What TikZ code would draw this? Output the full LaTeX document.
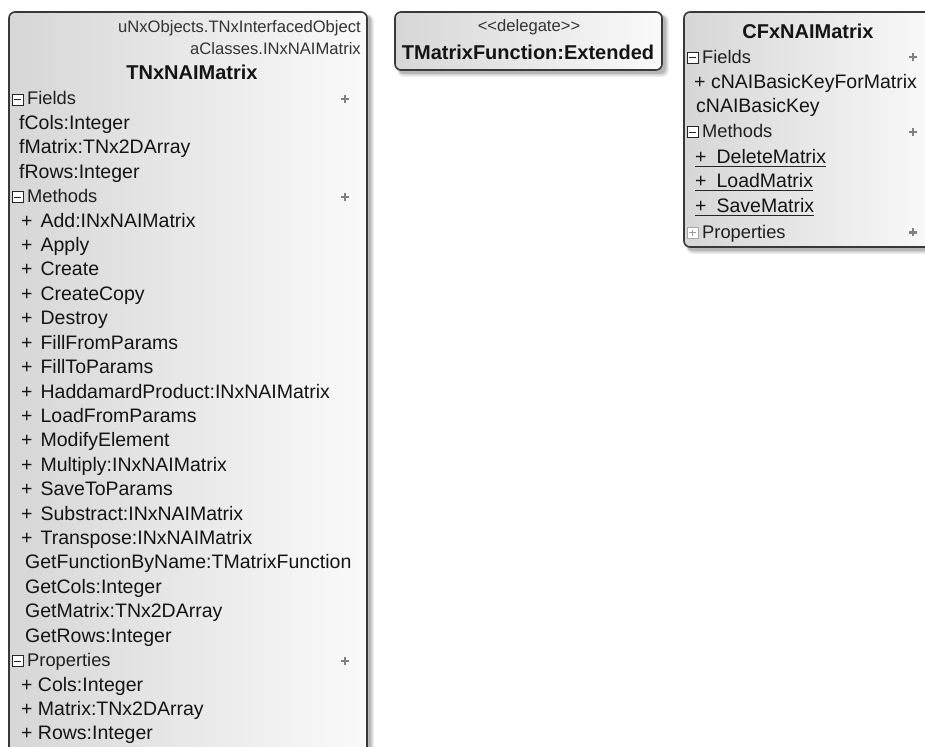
\documentclass[tikz,border=0pt]{standalone}
\usepackage{fontspec}
\setmainfont{Liberation Sans}
\usetikzlibrary{calc}
\begin{document}
\begin{tikzpicture}[x=1pt,y=-1pt,
  boxframe/.style={draw=black!78,line width=1.6pt,rounded corners=6pt,
                   left color=black!16,right color=black!2},
  mem/.style={anchor=base west,inner sep=0pt,text=black!92,
              font=\fontsize{19.5}{22}\selectfont},
  hdr/.style={anchor=base west,inner sep=0pt,text=black!88,
              font=\fontsize{18.3}{21}\selectfont},
  ttl/.style={anchor=base,inner sep=0pt,text=black!92,
              font=\bfseries\fontsize{20}{24}\selectfont},
  stereo/.style={inner sep=0pt,text=black!80,
                 font=\fontsize{16.6}{19}\selectfont},
  uline/.style={draw=black!85,line width=1.2pt}]

\useasboundingbox (0,0) rectangle (925,746);
\clip (0,0) rectangle (925,746);

% soft drop shadow under a rounded box: #1..#4 = left, top, right, bottom
\newcommand{\boxshadow}[4]{%
  \fill[black,opacity=0.07,rounded corners=7pt] (#1+2,#2+2) rectangle (#3+7,#4+7);
  \fill[black,opacity=0.10,rounded corners=6pt] (#1+3,#2+3) rectangle (#3+5.5,#4+5.5);
  \fill[black,opacity=0.14,rounded corners=6pt] (#1+3,#2+3) rectangle (#3+4,#4+4);}

% header row: minus box icon, caption and the grey add mark at the right
\newcommand{\hdrrow}[5]{% name, icon x, baseline, caption, plus x
  \draw[black!85,line width=0.9pt,fill=white] (#2,#3-11) rectangle (#2+11,#3);
  \draw[black!85,line width=1.1pt] (#2+2.4,#3-5.5) -- (#2+8.6,#3-5.5);
  \node[hdr] (#1) at (#2+15,#3) {#4};
  \draw[black!50,line width=2.4pt] (#5-4,#3-6) -- (#5+4,#3-6)
                                   (#5,#3-10) -- (#5,#3-2);}

% ---------------- TNxNAIMatrix ----------------
\boxshadow{9}{12}{367}{820}
\path[boxframe] (9,12) rectangle (367,820);
\node[stereo,anchor=base east] (anc1) at (361,33) {uNxObjects.TNxInterfacedObject};
\node[stereo,anchor=base east] (anc2) at (361,55) {aClasses.INxNAIMatrix};
\node[ttl] (tnxTitle) at (192,80) {TNxNAIMatrix};

\hdrrow{tnxFields}{12}{105}{Fields}{345}
\node[mem] (fCols)   at (19,129.4) {fCols:Integer};
\node[mem] (fMatrix) at (19,153.8) {fMatrix:TNx2DArray};
\node[mem] (fRows)   at (19,178.3) {fRows:Integer};

\hdrrow{tnxMethods}{12}{202.7}{Methods}{345}
\foreach \txt [count=\i from 0] in {Add:INxNAIMatrix, Apply, Create, CreateCopy,
    Destroy, FillFromParams, FillToParams, HaddamardProduct:INxNAIMatrix,
    LoadFromParams, ModifyElement, Multiply:INxNAIMatrix, SaveToParams,
    Substract:INxNAIMatrix, Transpose:INxNAIMatrix}
  \node[mem] (meth\i) at (21,227.1+24.42*\i) {+\hspace{8pt}\txt};
\foreach \txt [count=\i from 0] in {GetFunctionByName:TMatrixFunction,
    GetCols:Integer, GetMatrix:TNx2DArray, GetRows:Integer}
  \node[mem] (getter\i) at (25,568.9+24.42*\i) {\txt};

\hdrrow{tnxProps}{12}{666.7}{Properties}{345}
\node[mem] (pCols)   at (21,691.1) {+ Cols:Integer};
\node[mem] (pMatrix) at (21,715.5) {+ Matrix:TNx2DArray};
\node[mem] (pRows)   at (21,739.9) {+ Rows:Integer};

% ---------------- TMatrixFunction ----------------
\boxshadow{395}{12}{662}{70}
\path[boxframe] (395,12) rectangle (662,70);
\node[stereo,anchor=base] (dlgStereo) at (529,32) {<\kern0pt<delegate>\kern0pt>};
\node[ttl] (dlgTitle) at (528,60) {TMatrixFunction:Extended};

% ---------------- CFxNAIMatrix ----------------
\boxshadow{684}{12}{940}{247}
\path[boxframe] (684,12) rectangle (940,247);
\node[ttl] (cfxTitle) at (808,38.3) {CFxNAIMatrix};

\hdrrow{cfxFields}{687}{63.3}{Fields}{913}
\node[mem] (cKeyMx) at (694,88.3)  {+ cNAIBasicKeyForMatrix};
\node[mem] (cKey)   at (696,112.8) {cNAIBasicKey};

\hdrrow{cfxMethods}{687}{137.8}{Methods}{913}
\node[mem] (mDel)  at (695,163.3) {+\hspace{10pt}DeleteMatrix};
\node[mem] (mLoad) at (695,187.8) {+\hspace{10pt}LoadMatrix};
\node[mem] (mSave) at (695,212.3) {+\hspace{10pt}SaveMatrix};
\foreach \n in {mDel,mLoad,mSave}
  \draw[uline] ($(\n.base west)+(0,3)$) -- ($(\n.base east)+(0,3)$);

% collapsed properties section
\draw[black!35,line width=0.9pt,fill=white] (687,227.3) rectangle (698,238.3);
\draw[black!40,line width=1.1pt] (689.4,232.8) -- (695.6,232.8)
                                 (692.5,229.7) -- (692.5,235.9);
\node[hdr] (cfxProps) at (702,238.3) {Properties};
\draw[black!50,line width=2.4pt] (909,232.3) -- (917,232.3)
                                 (913,228.3) -- (913,236.3);
\end{tikzpicture}
\end{document}
